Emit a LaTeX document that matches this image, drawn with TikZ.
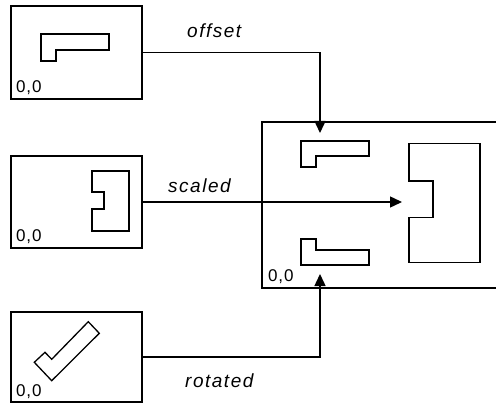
\documentclass[tikz,border=0pt]{standalone}
\usepackage{fontspec}
\setmainfont{Liberation Sans}
\usetikzlibrary{arrows.meta}
\begin{document}
\begin{tikzpicture}[x=1pt,y=-1pt,
  frame/.style={draw, line width=1.4pt, inner sep=0pt},
  shapeline/.style={draw, line width=1.3pt, line join=miter},
  conn/.style={draw, line width=1.4pt, -{Triangle[length=12pt,width=11pt]}},
  lbl/.style={inner sep=0pt, anchor=base west, font=\fontsize{19}{21}\selectfont\itshape\addfontfeature{LetterSpace=8}},
  origin/.style={inner sep=0pt, anchor=base west, font=\fontsize{17}{19}\selectfont\addfontfeature{LetterSpace=5}}]
\useasboundingbox (0,0) rectangle (496,404);
\clip (0,0) rectangle (496,404);

% source boxes
\node[frame, minimum width=131pt, minimum height=93pt] (b1) at (76.5,52.5) {};
\node[frame, minimum width=131pt, minimum height=92pt] (b2) at (76.5,202) {};
\node[frame, minimum width=131pt, minimum height=90pt] (b3) at (76.5,357) {};
% result box (right side beyond the picture)
\node[frame, minimum width=250pt, minimum height=166pt] (m) at (387,205) {};

% origin labels
\node[origin] (o1) at (16,93) {0,0};
\node[origin] (o2) at (16,241.7) {0,0};
\node[origin] (o3) at (16,396.5) {0,0};
\node[origin] (o4) at (268,281.7) {0,0};

% shapes in source boxes
\draw[shapeline] (41,34) -- (109,34) -- (109,50) -- (56,50) -- (56,61) -- (41,61) -- cycle;
\draw[shapeline] (92,171) -- (129,171) -- (129,231) -- (92,231) -- (92,209) -- (104,209) -- (104,192) -- (92,192) -- cycle;
\draw[shapeline] (88.3,321.7) -- (99.3,333.3) -- (51.7,380.7) -- (34.3,362.3) -- (45,352.3) -- (51.7,359.3) -- cycle;

% shapes in result box
\draw[shapeline] (301,141) -- (369,141) -- (369,156) -- (316,156) -- (316,167) -- (301,167) -- cycle;
\draw[shapeline] (301,265) -- (369,265) -- (369,250) -- (316,250) -- (316,239) -- (301,239) -- cycle;
\draw[shapeline] (409,143.3) -- (480,143.3) -- (480,262.7) -- (409,262.7) -- (409,217.7) -- (433,217.7) -- (433,181) -- (409,181) -- cycle;

% connector ends
\coordinate (tA) at (320,133);
\coordinate (tB) at (402,201);
\coordinate (tC) at (320,274);

\draw[conn] (b1.east) -| (tA);
\draw[conn] (b2.east) -- (b2.east -| tB);
\draw[conn] (b3.east) -| (tC);

% labels
\node[lbl] (l1) at (187,38) {offset};
\node[lbl] (l2) at (168,192) {scaled};
\node[lbl] (l3) at (185,387) {rotated};
\end{tikzpicture}
\end{document}
